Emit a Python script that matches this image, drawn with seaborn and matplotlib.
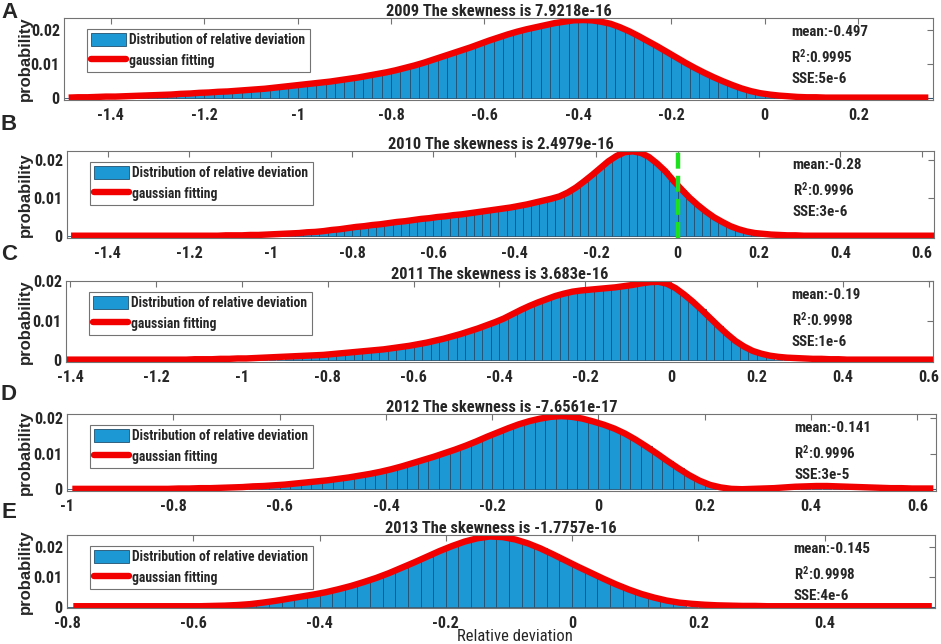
import numpy as np
import pandas as pd
import matplotlib
matplotlib.use("Agg")
import matplotlib.pyplot as plt
import seaborn as sns
from matplotlib.patches import Patch
from matplotlib.lines import Line2D

# ---------------- data ----------------
years = ["2009", "2010", "2011", "2012", "2013"]
panel_letters = ["A", "B", "C", "D", "E"]
skewness = ["7.9218e-16", "2.4979e-16", "3.683e-16", "-7.6561e-17", "-1.7757e-16"]
mean_txt = ["-0.497", "-0.28", "-0.19", "-0.141", "-0.145"]
r2_txt = ["0.9995", "0.9996", "0.9998", "0.9996", "0.9998"]
sse_txt = ["5e-6", "3e-6", "1e-6", "3e-5", "4e-6"]

bin_width = 0.02
bin_start = [-1.50, -1.50, -1.42, -1.00, -0.80]

# probability per bin (bin centres start at bin_start + 0.01)
prob_2009 = [
    0.0002, 0.0003, 0.0003, 0.0004, 0.0005, 0.0005, 0.0006, 0.0007, 0.0008, 0.0009,
    0.0010, 0.0011, 0.0013, 0.0014, 0.0016, 0.0017, 0.0019, 0.0020, 0.0022, 0.0024,
    0.0026, 0.0028, 0.0031, 0.0034, 0.0037, 0.0040, 0.0043, 0.0046, 0.0049, 0.0053,
    0.0057, 0.0061, 0.0066, 0.0071, 0.0076, 0.0082, 0.0089, 0.0096, 0.0104, 0.0113,
    0.0122, 0.0131, 0.0140, 0.0149, 0.0159, 0.0169, 0.0178, 0.0187, 0.0195, 0.0202,
    0.0208, 0.0214, 0.0220, 0.0224, 0.0228, 0.0229, 0.0228, 0.0224, 0.0218, 0.0208,
    0.0196, 0.0182, 0.0167, 0.0152, 0.0136, 0.0120, 0.0104, 0.0089, 0.0075, 0.0062,
    0.0050, 0.0039, 0.0029, 0.0021, 0.0015, 0.0011, 0.0008, 0.0006, 0.0004, 0.0003,
    0.0003, 0.0002, 0.0002, 0.0002, 0.0002, 0.0002, 0.0002, 0.0002, 0.0002, 0.0002,
    0.0002, 0.0002, 0.0002,
]
prob_2010 = [
    0.0001, 0.0001, 0.0001, 0.0001, 0.0001, 0.0001, 0.0001, 0.0001, 0.0001, 0.0001,
    0.0001, 0.0001, 0.0001, 0.0001, 0.0001, 0.0001, 0.0001, 0.0001, 0.0001, 0.0002,
    0.0002, 0.0002, 0.0003, 0.0003, 0.0004, 0.0005, 0.0006, 0.0007, 0.0008, 0.0010,
    0.0011, 0.0013, 0.0016, 0.0018, 0.0021, 0.0024, 0.0026, 0.0029, 0.0031, 0.0034,
    0.0037, 0.0039, 0.0042, 0.0045, 0.0047, 0.0050, 0.0052, 0.0055, 0.0057, 0.0060,
    0.0063, 0.0066, 0.0069, 0.0072, 0.0075, 0.0079, 0.0083, 0.0088, 0.0093, 0.0098,
    0.0104, 0.0114, 0.0127, 0.0143, 0.0160, 0.0178, 0.0196, 0.0210, 0.0220, 0.0222,
    0.0218, 0.0207, 0.0190, 0.0170, 0.0145, 0.0122, 0.0100, 0.0081, 0.0064, 0.0049,
    0.0037, 0.0026, 0.0018, 0.0012, 0.0008, 0.0006, 0.0004, 0.0003, 0.0002, 0.0002,
    0.0001, 0.0001, 0.0001, 0.0001, 0.0001, 0.0001, 0.0001, 0.0001, 0.0001, 0.0001,
    0.0001, 0.0001, 0.0001, 0.0001, 0.0001, 0.0001, 0.0001,
]
prob_2011 = [
    0.0001, 0.0001, 0.0001, 0.0001, 0.0001, 0.0001, 0.0001, 0.0001, 0.0001, 0.0001,
    0.0001, 0.0001, 0.0001, 0.0001, 0.0001, 0.0002, 0.0002, 0.0002, 0.0003, 0.0003,
    0.0004, 0.0004, 0.0005, 0.0006, 0.0007, 0.0008, 0.0009, 0.0010, 0.0011, 0.0012,
    0.0013, 0.0015, 0.0017, 0.0019, 0.0021, 0.0023, 0.0025, 0.0027, 0.0030, 0.0033,
    0.0036, 0.0040, 0.0044, 0.0049, 0.0054, 0.0060, 0.0066, 0.0073, 0.0080, 0.0088,
    0.0096, 0.0105, 0.0116, 0.0127, 0.0137, 0.0146, 0.0154, 0.0162, 0.0168, 0.0173,
    0.0176, 0.0178, 0.0180, 0.0182, 0.0184, 0.0187, 0.0190, 0.0194, 0.0197, 0.0198,
    0.0193, 0.0182, 0.0166, 0.0148, 0.0128, 0.0107, 0.0086, 0.0066, 0.0048, 0.0034,
    0.0023, 0.0016, 0.0011, 0.0008, 0.0006, 0.0005, 0.0004, 0.0003, 0.0003, 0.0002,
    0.0002, 0.0001, 0.0001, 0.0001, 0.0001, 0.0001, 0.0001, 0.0001, 0.0001, 0.0001,
    0.0001, 0.0001,
]
prob_2012 = [
    0.0001, 0.0001, 0.0001, 0.0001, 0.0001, 0.0001, 0.0001, 0.0001, 0.0001, 0.0001,
    0.0002, 0.0002, 0.0003, 0.0003, 0.0004, 0.0005, 0.0006, 0.0008, 0.0009, 0.0011,
    0.0013, 0.0016, 0.0019, 0.0022, 0.0025, 0.0029, 0.0033, 0.0038, 0.0043, 0.0049,
    0.0056, 0.0064, 0.0073, 0.0082, 0.0091, 0.0101, 0.0111, 0.0122, 0.0134, 0.0147,
    0.0159, 0.0171, 0.0182, 0.0191, 0.0198, 0.0203, 0.0205, 0.0203, 0.0198, 0.0190,
    0.0181, 0.0170, 0.0156, 0.0139, 0.0120, 0.0100, 0.0079, 0.0059, 0.0040, 0.0024,
    0.0012, 0.0005, 0.0001, 0.0000, 0.0001, 0.0002, 0.0003, 0.0005, 0.0007, 0.0008,
    0.0009, 0.0009, 0.0008, 0.0007, 0.0006, 0.0005, 0.0004, 0.0003, 0.0003, 0.0002,
    0.0002, 0.0002,
]
prob_2013 = [
    0.0001, 0.0001, 0.0001, 0.0001, 0.0001, 0.0001, 0.0001, 0.0001, 0.0001, 0.0001,
    0.0001, 0.0002, 0.0003, 0.0005, 0.0008, 0.0013, 0.0019, 0.0026, 0.0033, 0.0040,
    0.0048, 0.0058, 0.0069, 0.0082, 0.0096, 0.0112, 0.0130, 0.0148, 0.0167, 0.0186,
    0.0203, 0.0218, 0.0229, 0.0235, 0.0233, 0.0225, 0.0212, 0.0195, 0.0175, 0.0154,
    0.0133, 0.0113, 0.0093, 0.0074, 0.0057, 0.0042, 0.0030, 0.0020, 0.0013, 0.0009,
    0.0006, 0.0004, 0.0003, 0.0002, 0.0002, 0.0001, 0.0001, 0.0001, 0.0001, 0.0001,
    0.0001, 0.0001, 0.0001, 0.0001, 0.0001, 0.0001, 0.0001, 0.0001, 0.0001,
]
probs = [prob_2009, prob_2010, prob_2011, prob_2012, prob_2013]

# range of the data covered by histogram bars
hist_range = [(-1.50, 0.10), (-1.02, 0.20), (-0.90, 0.24), (-0.64, 0.23), (-0.54, 0.17)]
x_limits = [(-1.50, 0.36), (-1.50, 0.63), (-1.41, 0.61), (-1.00, 0.635), (-0.80, 0.575)]
y_top = [0.0235, 0.0223, 0.0200, 0.0211, 0.0240]
xticks_2009 = [-1.4, -1.2, -1.0, -0.8, -0.6, -0.4, -0.2, 0.0, 0.2]
xticks_2010 = [-1.4, -1.2, -1.0, -0.8, -0.6, -0.4, -0.2, 0.0, 0.2, 0.4, 0.6]
xticks_2011 = [-1.4, -1.2, -1.0, -0.8, -0.6, -0.4, -0.2, 0.0, 0.2, 0.4, 0.6]
xticks_2012 = [-1.0, -0.8, -0.6, -0.4, -0.2, 0.0, 0.2, 0.4, 0.6]
xticks_2013 = [-0.8, -0.6, -0.4, -0.2, 0.0, 0.2, 0.4]
xticks = [xticks_2009, xticks_2010, xticks_2011, xticks_2012, xticks_2013]
yticks = [0.0, 0.01, 0.02]
ytick_labels = ["0", "0.01", "0.02"]
zero_line_2010 = 0.0

# ---------------- layout / style ----------------
W, H = 941, 644
axes_px = [(64, 933, 18, 100), (67, 934, 151, 238), (66, 933, 281, 362),
           (67, 936, 414, 491), (67, 935, 535, 608)]   # left, right, top, bottom
letter_y = [13, 125, 255, 394, 513]
BAR = "#1c98d4"
EDGE = "#22506f"
RED = "#f20000"
SPINE = "0.45"
NARROW = ["Roboto Condensed", "Liberation Sans Narrow", "Noto Sans", "DejaVu Sans"]
WIDE = ["Liberation Sans", "DejaVu Sans"]

sns.set_style("white")
plt.rcParams["font.family"] = NARROW
plt.rcParams["font.weight"] = "bold"
plt.rcParams["font.stretch"] = "condensed"
plt.rcParams["mathtext.fontset"] = "custom"
plt.rcParams["mathtext.rm"] = "Roboto Condensed:bold"
plt.rcParams["mathtext.it"] = "Roboto Condensed:bold"
plt.rcParams["mathtext.bf"] = "Roboto Condensed:bold"

fig = plt.figure(figsize=(W / 100, H / 100), dpi=100)

for i in range(5):
    l, r, t, b = axes_px[i]
    aw, ah = r - l, b - t
    ax = fig.add_axes([l / W, 1 - b / H, aw / W, ah / H])

    vals = np.array(probs[i])
    n = len(vals)
    centers = bin_start[i] + bin_width * (np.arange(n) + 0.5)
    df = pd.DataFrame({"x": centers, "p": vals})
    lo, hi = hist_range[i]
    dh = df[(df["x"] > lo) & (df["x"] < hi)]

    sns.histplot(data=dh, x="x", weights="p", binwidth=bin_width,
                 binrange=(bin_start[i], bin_start[i] + n * bin_width),
                 ax=ax, color=BAR, edgecolor=EDGE, linewidth=0.6, alpha=1.0,
                 legend=False)
    sns.lineplot(data=df, x="x", y="p", ax=ax, color=RED, linewidth=4.6,
                 estimator=None, legend=False, solid_capstyle="butt")
    if i == 1:
        ax.axvline(zero_line_2010, color="#1ee01e", lw=3.2,
                   linestyle=(0, (3.6, 1.6)), zorder=5)

    ax.set_xlim(*x_limits[i])
    ax.set_ylim(-0.0005, y_top[i])
    ax.set_xticks(xticks[i])
    ax.set_xticklabels(["%g" % v for v in xticks[i]])
    ax.set_yticks(yticks)
    ax.set_yticklabels(ytick_labels)
    ax.tick_params(direction="in", length=4, width=0.8, color=SPINE,
                   top=True, right=True, labelsize=11.5, pad=3)
    ax.tick_params(axis="x", pad=6)
    for sp in ax.spines.values():
        sp.set_color(SPINE)
        sp.set_linewidth(0.8)
        sp.set_visible(True)

    ax.set_title(f"{years[i]} The skewness is {skewness[i]}", fontsize=11.8,
                 fontweight="bold", pad=1.5)
    ax.set_ylabel("probability", fontsize=12, fontweight="bold", family=WIDE,
                  fontstretch="normal")
    ax.yaxis.set_label_coords((33 - l) / aw, 0.5)
    if i == 4:
        ax.set_xlabel("Relative deviation", fontsize=12, fontweight="normal")
        ax.xaxis.set_label_coords((515 - l) / aw, -(629 - b) / ah)
    else:
        ax.set_xlabel("")

    handles = [Patch(facecolor=BAR, edgecolor=EDGE, linewidth=0.6),
               Line2D([], [], color=RED, lw=4.6)]
    labels = ["Distribution of relative deviation", "gaussian fitting"]
    leg = ax.legend(handles, labels, loc="upper left",
                    bbox_to_anchor=(23 / aw, 1 - 11 / ah), borderaxespad=0,
                    frameon=True, fancybox=False, edgecolor=SPINE, framealpha=1,
                    fontsize=9.8, handlelength=2.6, handleheight=1.1,
                    handletextpad=0.22, labelspacing=0.45, borderpad=0.3)
    leg.get_frame().set_linewidth(0.8)

    lines = [f"mean:{mean_txt[i]}", "R$^{2}$" + f":{r2_txt[i]}", f"SSE:{sse_txt[i]}"]
    for txt, off in zip(lines, [14, 39, 61]):
        ax.text(0.837, 1 - off / ah, txt, transform=ax.transAxes, fontsize=10.8,
                fontweight="bold", ha="left", va="center")

    fig.text(9 / W, 1 - letter_y[i] / H, panel_letters[i], fontsize=16,
             fontweight="bold", family=WIDE, fontstretch="normal",
             ha="center", va="center")

fig.savefig("out.png", dpi=100)
